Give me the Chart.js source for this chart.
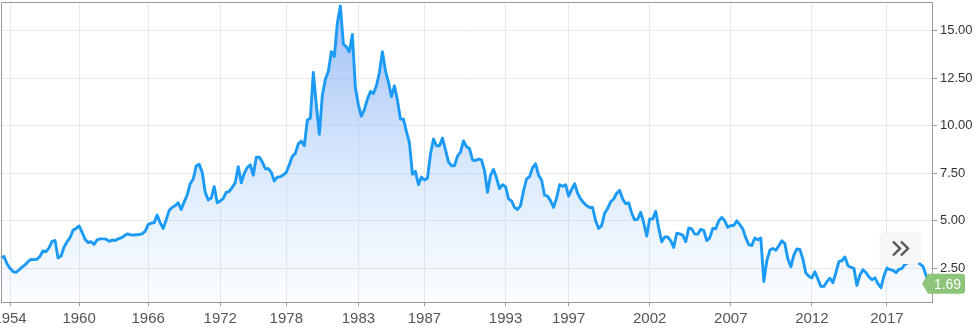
<!DOCTYPE html>
<html>
<head>
<meta charset="utf-8">
<title>US 10Y yield</title>
<script src="https://cdn.jsdelivr.net/npm/chart.js@4.4.1/dist/chart.umd.min.js"></script>
<style>
  body { margin: 0; background: #fff; }
  #chart { display: block; }
</style>
</head>
<body>
<canvas id="chart" width="974" height="333"></canvas>
<script>
// one entry per year, and how many samples of the line fall in it
const years = [1953,
  1954, 1955, 1956, 1957, 1958, 1959,
  1960, 1961, 1962, 1963, 1964, 1965,
  1966, 1967, 1968, 1969, 1970, 1971,
  1972, 1973, 1974, 1975, 1976, 1977,
  1978, 1979, 1980, 1981, 1982,
  1983, 1984, 1985, 1986,
  1987, 1988, 1989, 1990, 1991, 1992,
  1993, 1994, 1995, 1996,
  1997, 1998, 1999, 2000, 2001,
  2002, 2003, 2004, 2005, 2006,
  2007, 2008, 2009, 2010, 2011,
  2012, 2013, 2014, 2015, 2016,
  2017, 2018, 2019];
const pointsPerYear = [3,
  4, 4, 4, 4, 4, 3,
  4, 4, 4, 4, 4, 3,
  4, 4, 4, 4, 4, 4,
  4, 4, 4, 4, 3, 3,
  5, 5, 5, 5, 4,
  6, 5, 6, 5,
  5, 4, 5, 4, 5, 4,
  5, 5, 6, 5,
  5, 6, 5, 6, 5,
  5, 6, 5, 6, 5,
  5, 6, 5, 6, 5,
  5, 5, 5, 5, 5,
  5, 5, 6];

const yields = [
  3.05, 3.12, 2.74, 2.50, 2.33, 2.29, 2.42, 2.56, 2.68, 2.85,
  2.97, 2.96, 2.98, 3.14, 3.42, 3.38, 3.58, 3.92, 3.96, 3.05,
  3.15, 3.62, 3.90, 4.12, 4.50, 4.60, 4.73, 4.40, 4.03, 3.86,
  3.90, 3.76, 4.00, 4.05, 4.05, 4.04, 3.92, 3.99, 3.96, 4.05,
  4.10, 4.20, 4.31, 4.27, 4.25, 4.27, 4.28, 4.31, 4.45, 4.80,
  4.88, 4.90, 5.30, 4.90, 4.60, 5.05, 5.55, 5.70, 5.80, 5.95,
  5.60, 6.00, 6.36, 6.95, 7.20, 7.88, 7.98, 7.54, 6.50, 6.10,
  6.20, 6.80, 5.95, 6.04, 6.18, 6.50, 6.55, 6.76, 7.00, 7.85,
  7.00, 7.50, 7.80, 7.95, 7.40, 8.35, 8.35, 8.10, 7.74, 7.75,
  7.55, 7.10, 7.30, 7.32, 7.41, 7.55, 7.95, 8.40, 8.55, 9.05,
  9.20, 8.95, 10.30, 10.40, 12.80, 11.10, 9.55, 11.60, 12.45, 12.85,
  13.90, 13.64, 15.40, 16.30, 14.30, 14.15, 13.90, 14.80, 12.00, 11.10,
  10.50, 10.85, 11.40, 11.80, 11.70, 12.10, 12.80, 13.90, 12.90, 12.30,
  11.54, 12.10, 11.36, 10.35, 10.35, 9.69, 9.10, 7.45, 7.60, 6.90,
  7.30, 7.15, 7.24, 8.50, 9.30, 8.95, 8.95, 9.35, 8.73, 8.10,
  7.90, 7.90, 8.40, 8.62, 9.20, 8.90, 8.80, 8.20, 8.17, 8.25,
  8.20, 7.64, 6.50, 7.40, 7.70, 7.25, 6.70, 6.90, 6.80, 6.15,
  6.05, 5.70, 5.60, 5.80, 6.59, 7.20, 7.32, 7.80, 8.00, 7.40,
  7.15, 6.35, 6.30, 6.05, 5.71, 6.20, 6.90, 6.82, 6.90, 6.30,
  6.65, 6.95, 6.45, 6.15, 5.95, 5.80, 5.70, 5.70, 5.00, 4.60,
  4.75, 5.40, 5.65, 6.00, 6.15, 6.45, 6.60, 6.15, 5.90, 5.95,
  5.40, 5.05, 5.08, 5.45, 4.90, 4.20, 5.10, 5.10, 5.50, 4.62,
  3.90, 4.15, 4.15, 3.96, 3.60, 4.35, 4.31, 4.25, 3.90, 4.62,
  4.57, 4.30, 4.30, 4.55, 4.50, 3.96, 4.10, 4.60, 4.58, 5.00,
  5.18, 5.00, 4.66, 4.75, 4.75, 5.00, 4.80, 4.57, 4.10, 3.75,
  3.70, 4.10, 4.00, 4.10, 1.80, 2.90, 3.45, 3.55, 3.45, 3.69,
  3.95, 3.80, 3.00, 2.58, 3.20, 3.52, 3.50, 2.99, 2.25, 2.08,
  2.00, 2.32, 1.94, 1.55, 1.55, 1.80, 1.98, 1.75, 2.27, 2.85,
  2.90, 3.10, 2.65, 2.55, 2.50, 1.60, 2.15, 2.43, 2.28, 2.05,
  1.90, 2.00, 1.70, 1.48, 2.10, 2.52, 2.43, 2.40, 2.27, 2.45,
  2.50, 2.71, 2.80, 2.80, 2.85, 2.87, 2.72, 2.60, 2.15, 1.69,
  null
];

const tickYears = ['1954', '1960', '1966', '1972', '1978', '1983', '1987',
  '1993', '1997', '2002', '2007', '2012', '2017'];
const yMin = 0.73;
const yMax = 16.51;

const labels = years.flatMap((year, i) => Array(pointsPerYear[i]).fill(String(year)));
const lastValue = yields.filter(v => v !== null).pop();

const fontFamily = "'Liberation Sans', Arial, sans-serif";

// gray frame on the top and left of the plot
const framePlugin = {
    id: 'frame',
    afterDraw(chart) {
        const {ctx, chartArea} = chart;
        ctx.save();
        ctx.strokeStyle = '#9a9a9a';
        ctx.lineWidth = 1;
        ctx.beginPath();
        ctx.moveTo(chartArea.left + 0.5, chartArea.bottom);
        ctx.lineTo(chartArea.left + 0.5, chartArea.top + 0.5);
        ctx.lineTo(chartArea.right, chartArea.top + 0.5);
        ctx.stroke();
        ctx.restore();
    }
};

// the "»" button and the green last value flag
const overlayPlugin = {
    id: 'overlay',
    afterDraw(chart) {
        const {ctx, chartArea} = chart;
        const yScale = chart.scales.y;
        ctx.save();

        // button
        const bx = chartArea.right - 51, by = chartArea.bottom - 69, bw = 39, bh = 31;
        ctx.shadowColor = 'rgba(0,0,0,0.12)';
        ctx.shadowBlur = 3;
        ctx.fillStyle = '#f6f6f6';
        ctx.beginPath();
        ctx.roundRect(bx, by, bw, bh, 4);
        ctx.fill();
        ctx.shadowColor = 'transparent';
        ctx.strokeStyle = '#555';
        ctx.lineWidth = 2.4;
        ctx.lineJoin = 'miter';
        const cy = by + bh / 2;
        [bx + 12, bx + 20].forEach(cx => {
            ctx.beginPath();
            ctx.moveTo(cx, cy - 7);
            ctx.lineTo(cx + 7, cy);
            ctx.lineTo(cx, cy + 7);
            ctx.stroke();
        });

        // last value flag
        const y = yScale.getPixelForValue(lastValue);
        const tip = chartArea.right - 10;
        const left = chartArea.right - 4;
        const right = chartArea.right + 33;
        ctx.fillStyle = '#8cc47a';
        ctx.beginPath();
        ctx.moveTo(tip, y);
        ctx.lineTo(left, y - 10);
        ctx.lineTo(right - 3, y - 10);
        ctx.quadraticCurveTo(right, y - 10, right, y - 7);
        ctx.lineTo(right, y + 7);
        ctx.quadraticCurveTo(right, y + 10, right - 3, y + 10);
        ctx.lineTo(left, y + 10);
        ctx.closePath();
        ctx.fill();
        ctx.fillStyle = '#fff';
        ctx.font = '14px ' + fontFamily;
        ctx.textAlign = 'center';
        ctx.textBaseline = 'middle';
        ctx.fillText(lastValue.toFixed(2), (left + right) / 2 + 1, y + 1);
        ctx.restore();
    }
};

new Chart('chart', {
    type: 'line',
    data: {
        labels: labels,
        datasets: [{
            data: yields,
            borderColor: '#1c9bf6',
            borderWidth: 2.9,
            borderJoinStyle: 'round',
            pointRadius: 0,
            tension: 0,
            fill: 'start',
            backgroundColor: context => {
                const area = context.chart.chartArea;
                if (!area) return 'rgba(120,170,245,0.3)';
                const gradient = context.chart.ctx.createLinearGradient(0, area.top, 0, area.bottom);
                gradient.addColorStop(0, 'rgba(95,145,240,0.62)');
                gradient.addColorStop(0.55, 'rgba(120,175,245,0.28)');
                gradient.addColorStop(1, 'rgba(150,195,250,0.04)');
                return gradient;
            }
        }]
    },
    options: {
        responsive: false,
        animation: false,
        layout: { padding: { left: 1, top: 2, right: 0, bottom: 0 } },
        plugins: {
            legend: { display: false },
            tooltip: { enabled: false }
        },
        scales: {
            x: {
                type: 'category',
                afterBuildTicks: scale => {
                    scale.ticks = scale.ticks.filter(t =>
                        tickYears.includes(labels[t.value]) && labels[t.value - 1] !== labels[t.value]);
                },
                afterFit: scale => {
                    scale.height = 31;
                    scale.paddingLeft = 0;
                    scale.paddingRight = 0;
                },
                grid: { color: '#e9e9e9', tickColor: '#9a9a9a', tickLength: 4 },
                border: { color: '#9a9a9a' },
                ticks: {
                    autoSkip: false,
                    maxRotation: 0,
                    padding: 4,
                    color: '#555',
                    font: { family: fontFamily, size: 15 }
                }
            },
            y: {
                position: 'right',
                min: yMin,
                max: yMax,
                afterFit: scale => {
                    scale.width = 42;
                    scale.paddingTop = 0;
                    scale.paddingBottom = 0;
                },
                grid: { color: '#e9e9e9', tickColor: '#9a9a9a', tickLength: 5 },
                border: { color: '#9a9a9a' },
                ticks: {
                    stepSize: 2.5,
                    includeBounds: false,
                    padding: 3,
                    color: '#333',
                    font: { family: fontFamily, size: 13 },
                    callback: value => value.toFixed(2)
                }
            }
        }
    },
    plugins: [framePlugin, overlayPlugin]
});
</script>
</body>
</html>
